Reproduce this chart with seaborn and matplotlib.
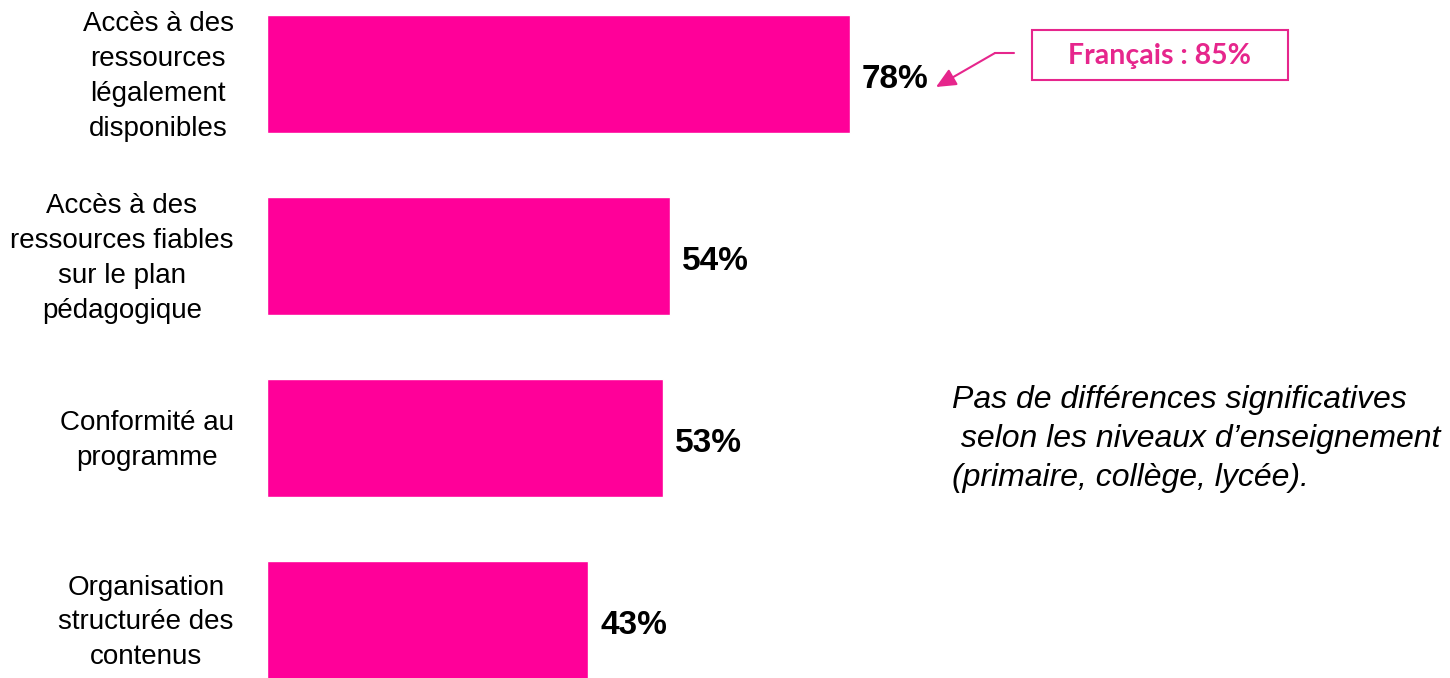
import numpy as np
import matplotlib.pyplot as plt
import seaborn as sns

categories = [
    "Accès à des\nressources\nlégalement\ndisponibles",
    "Accès à des\nressources fiables\nsur le plan\npédagogique",
    "Conformité au\nprogramme",
    "Organisation\nstructurée des\ncontenus",
]
values = [78, 54, 53, 43]
callout_text = "Français : 85%"
note_text = "Pas de différences significatives\n selon les niveaux d’enseignement\n(primaire, collège, lycée)."

bar_color = "#FF0099"
callout_color = "#E6268C"

sns.set_style("white")
plt.rcParams['font.family'] = ['Liberation Sans', 'DejaVu Sans']

W, H = 1450, 678
fig = plt.figure(figsize=(W / 100, H / 100), dpi=100)
ax = fig.add_axes([267 / W, 0, 1 - 267 / W, 1])

sns.barplot(x=values, y=categories, orient="h", color=bar_color,
            width=0.65, saturation=1, ax=ax)

px_per_unit = 7.47
ax.set_xlim(0, (W - 267) / px_per_unit)
ax.set_ylim((H - 74) / 182, -74 / 182)

for i, v in enumerate(values):
    ax.text(v + 1.6, i + 0.03, f"{v}%", va="center", ha="left",
            fontsize=24, fontweight="bold", color="black")

# nudge the multi-line labels up a little so they sit centred on the bars
ax.set_yticks(np.arange(len(categories)) - 0.028, labels=categories)
ax.tick_params(axis="y", length=0, pad=24, labelsize=20, labelcolor="black")
for t in ax.get_yticklabels():
    t.set_multialignment("center")
    t.set_linespacing(1.44)
ax.set_xticks([])
ax.set_xlabel("")
ax.set_ylabel("")
sns.despine(ax=ax, left=True, bottom=True)

# callout box
def fx(x):
    return x / W

def fy(y):
    return 1 - y / H

box = plt.Rectangle((fx(1032), fy(80)), fx(1288) - fx(1032), fy(30) - fy(80),
                    transform=fig.transFigure, fill=False,
                    edgecolor=callout_color, linewidth=1.5)
fig.add_artist(box)
fig.text(fx(1160), fy(56), callout_text, ha="center", va="center",
         fontsize=20.5, fontweight="bold", color=callout_color,
         family=["Lato", "DejaVu Sans"])

fig.add_artist(plt.Line2D([fx(1014), fx(995)], [fy(53), fy(53)],
                          transform=fig.transFigure, color=callout_color, lw=1.5))
ax.annotate("", xy=(fx(936), fy(87)), xycoords="figure fraction",
            xytext=(fx(995), fy(53)), textcoords="figure fraction",
            arrowprops=dict(arrowstyle="-|>,head_length=1.2,head_width=0.55",
                            color=callout_color, lw=1.5, shrinkA=0, shrinkB=0))

fig.text(fx(952), fy(439), note_text, ha="left", va="center", color="black",
         fontsize=23, style="italic", linespacing=1.41)

fig.savefig("out.png", dpi=100)
